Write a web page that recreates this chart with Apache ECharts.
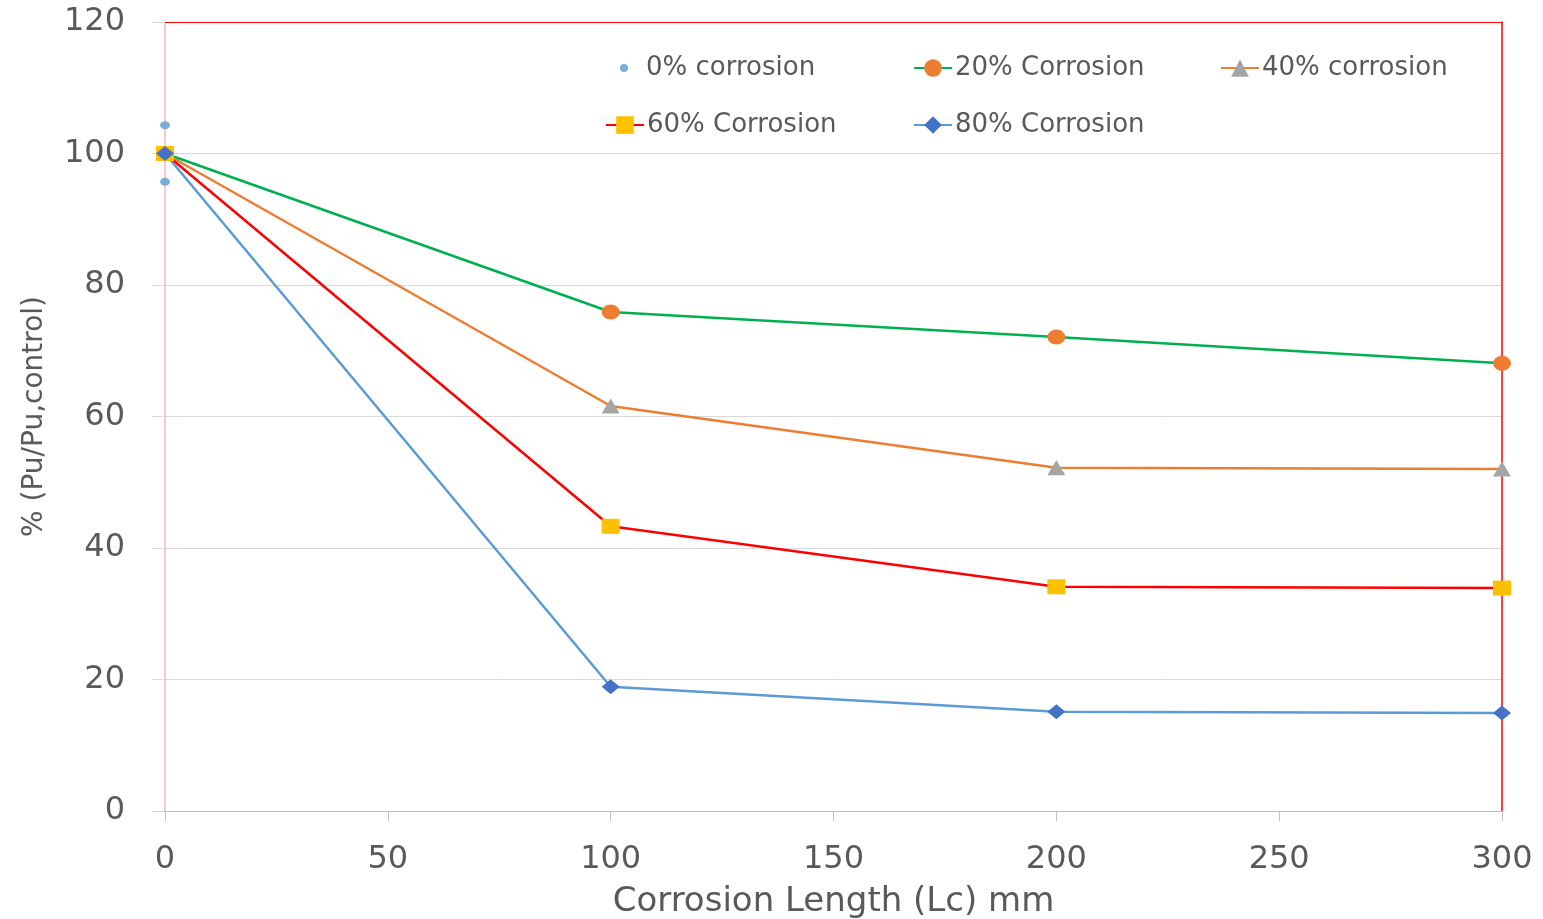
<!DOCTYPE html>
<html>
<head>
<meta charset="utf-8">
<script src="https://cdn.jsdelivr.net/npm/echarts@6/dist/echarts.min.js"></script>
<style>html,body{margin:0;padding:0;background:#fff}#c{width:1543px;height:919px}</style>
</head>
<body>
<div id="c"></div>
<script>
const xValues = [0, 100, 200, 300];
const corr0X = [0, 0, 0];
const corr0 = [104.3, 100, 95.7];
const corr20 = [100, 75.9, 72.1, 68.1];
const corr40 = [100, 61.6, 52.2, 52.0];
const corr60 = [100, 43.3, 34.1, 33.9];
const corr80 = [100, 18.9, 15.1, 14.9];
const seriesNames = ['0% corrosion', '20% Corrosion', '40% corrosion', '60% Corrosion', '80% Corrosion'];
const yTicks = [0, 20, 40, 60, 80, 100, 120];

const pair = (xs, ys) => xs.map((x, i) => [x, ys[i]]);
const FONT = 'DejaVu Sans';
const TXT = '#595959';

function lineSeries(name, ys, lineColor, markColor, symbol, size) {
  return {
    name, type: 'line', data: pair(xValues, ys),
    symbol, symbolSize: size, showSymbol: true,
    lineStyle: { color: lineColor, width: 2.5 },
    itemStyle: { color: markColor, borderWidth: 0 },
    emphasis: { disabled: true }, animation: false, z: 3
  };
}

function legendAt(name, left, top, h, icon) {
  return {
    data: [icon ? { name, icon } : name], left, top, itemWidth: 38, itemHeight: h, itemGap: 0,
    textStyle: { fontFamily: FONT, fontSize: 26, color: TXT, padding: [0, 0, 0, -2] },
    selectedMode: false
  };
}

const hidden = { show: false };
const chart = echarts.init(document.getElementById('c'));
chart.setOption({
  backgroundColor: '#fff',
  animation: false,
  grid: { left: 165, right: 41, top: 22, bottom: 108, show: false, containLabel: false, outerBoundsMode: 'none' },
  legend: [
    legendAt(seriesNames[0], 615, 50, 8, 'circle'),
    legendAt(seriesNames[1], 908, 50, 22),
    legendAt(seriesNames[2], 1215, 50, 22),
    legendAt(seriesNames[3], 600, 107, 22),
    legendAt(seriesNames[4], 908, 107, 22)
  ],
  xAxis: [{
    type: 'value', min: 0, max: 300, interval: 50,
    name: 'Corrosion Length (Lc) mm', nameLocation: 'middle', nameGap: 74,
    nameTextStyle: { fontFamily: FONT, fontSize: 34, color: TXT },
    axisLine: { show: true, onZero: false, lineStyle: { color: '#bfbfbf', width: 1 } },
    axisTick: { show: true, length: 10, lineStyle: { color: '#bfbfbf' } },
    axisLabel: { fontFamily: FONT, fontSize: 32, color: TXT, margin: 33 },
    splitLine: { show: false }, z: 1
  }, {
    type: 'value', min: 0, max: 300, interval: 50, position: 'top',
    axisLine: { show: true, onZero: false, lineStyle: { color: '#ff0000', width: 1 } },
    axisTick: hidden, axisLabel: hidden, splitLine: hidden
  }],
  yAxis: [{
    type: 'value', min: 0, max: 120, interval: 20,
    name: '% (Pu/Pu,control)', nameLocation: 'middle', nameGap: 116, nameRotate: 90,
    nameTextStyle: { fontFamily: FONT, fontSize: 28, color: TXT },
    axisLine: { show: true, onZero: false, lineStyle: { color: '#f2b8b8', width: 1.5 } },
    axisTick: { show: true, length: 13, lineStyle: { color: '#d9d9d9' } },
    axisLabel: { fontFamily: FONT, fontSize: 32, color: TXT, margin: 40, padding: [5, 0, 0, 0],
      formatter: v => yTicks.includes(v) ? String(v) : '' },
    splitLine: { show: true, lineStyle: { color: '#d9d9d9', width: 1 } }
  }, {
    type: 'value', min: 0, max: 120, interval: 20, position: 'right',
    axisLine: { show: true, onZero: false, lineStyle: { color: '#ff0000', width: 1.5 } },
    axisTick: hidden, axisLabel: hidden, splitLine: hidden
  }],
  series: [
    {
      name: seriesNames[0], type: 'scatter', data: pair(corr0X, corr0),
      symbol: 'circle', symbolSize: [10, 8],
      itemStyle: { color: '#5b9bd5' }, emphasis: { disabled: true }, z: 2
    },
    lineSeries(seriesNames[1], corr20, '#00b050', '#ed7d31', 'circle', [18, 15]),
    lineSeries(seriesNames[2], corr40, '#ed7d31', '#a5a5a5', 'triangle', [18, 15]),
    lineSeries(seriesNames[3], corr60, '#ff0000', '#ffc000', 'rect', [18, 15]),
    lineSeries(seriesNames[4], corr80, '#5b9bd5', '#4472c4', 'diamond', [18, 15])
  ]
});
</script>
</body>
</html>
